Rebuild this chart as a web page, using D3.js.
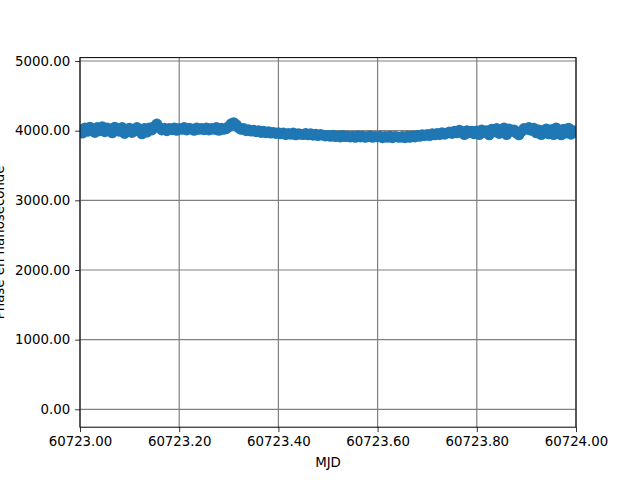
<!DOCTYPE html>
<html>
<head>
<meta charset="utf-8">
<script src="https://cdn.jsdelivr.net/npm/d3@7"></script>
<style>
  body { margin: 0; background: #fff; }
  text { font-family: "DejaVu Sans", sans-serif; }
</style>
</head>
<body>
<svg id="chart" width="640" height="480"></svg>
<script>
// ---- data ----
const mjdStart = 60723.0;
const mjdStep = 0.005;
const phaseValues = [
  4010, 3965, 4040, 3990, 4050, 4020, 3975, 4045, 4000, 4055,
  3985, 4040, 4010, 3970, 4050, 4030, 3990, 4045, 3960, 4020,
  4035, 3975, 4010, 4045, 3990, 3955, 4030, 3980, 4040, 4010,
  4060, 4095, 4040, 4010, 4035, 4000, 4030, 4015, 4040, 4005,
  4030, 4020, 4045, 4010, 4035, 4025, 4005, 4040, 4020, 4030,
  4015, 4040, 4010, 4030, 4020, 4045, 4005, 4035, 4020, 4030,
  4060, 4100, 4115, 4085, 4040, 4020, 4030, 4000, 4015, 3995,
  4005, 3985, 4000, 3975, 3990, 3970, 3985, 3965, 3975, 3960,
  3970, 3955, 3965, 3945, 3960, 3950, 3965, 3940, 3955, 3950,
  3945, 3960, 3940, 3955, 3935, 3950, 3930, 3945, 3935, 3925,
  3930, 3920, 3935, 3915, 3925, 3910, 3930, 3915, 3920, 3910,
  3920, 3905, 3925, 3910, 3920, 3905, 3915, 3925, 3905, 3915,
  3910, 3920, 3900, 3915, 3905, 3920, 3900, 3915, 3910, 3905,
  3915, 3900, 3920, 3905, 3925, 3910, 3930, 3920, 3940, 3930,
  3945, 3930, 3955, 3940, 3960, 3945, 3970, 3950, 3965, 3980,
  3960, 3990, 3970, 4005, 3985, 3945, 4000, 3975, 3990, 3955,
  3995, 3945, 4010, 3975, 4000, 3940, 4020, 3985, 4030, 3960,
  4000, 4040, 3945, 4025, 3990, 4010, 3965, 3940, 3990, 4030,
  4020, 4045, 4005, 4035, 3970, 4010, 3945, 4000, 4025, 3955,
  4015, 3945, 4040, 3990, 3940, 4020, 3965, 4035, 3950, 4000,
  3975
];
const mjdValues = phaseValues.map((_, i) => +(mjdStart + i * mjdStep).toFixed(3));
const xTicks = [60723.0, 60723.2, 60723.4, 60723.6, 60723.8, 60724.0];
const yTicks = [0, 1000, 2000, 3000, 4000, 5000];
const xDomain = [60723.0, 60724.0];
const yDomain = [-257, 5049];
const xLabel = "MJD";
const yLabel = "Phase en nanoseconde";

// ---- layout ----
const L = 80, R = 576, T = 57.6, B = 427.2;
const svg = d3.select("#chart");
const x = d3.scaleLinear().domain(xDomain).range([L, R]);
const y = d3.scaleLinear().domain(yDomain).range([B, T]);

const data = mjdValues.map((m, i) => ({ m, v: phaseValues[i] }));

// grid
const grid = svg.append("g");
grid.selectAll(".vg").data(xTicks).enter().append("line")
  .attr("x1", d => x(d)).attr("x2", d => x(d)).attr("y1", T).attr("y2", B)
  .attr("stroke", "#808080").attr("stroke-width", 1.2);
grid.selectAll(".hg").data(yTicks).enter().append("line")
  .attr("x1", L).attr("x2", R).attr("y1", d => y(d)).attr("y2", d => y(d))
  .attr("stroke", "#808080").attr("stroke-width", 1.2);

// data (clipped to axes area)
svg.append("clipPath").attr("id", "clip").append("rect")
  .attr("x", L).attr("y", T).attr("width", R - L).attr("height", B - T);
const plot = svg.append("g").attr("clip-path", "url(#clip)");
plot.append("path").datum(data)
  .attr("fill", "none").attr("stroke", "#1f77b4").attr("stroke-width", 2)
  .attr("d", d3.line().x(d => x(d.m)).y(d => y(d.v)));
plot.selectAll("circle").data(data).enter().append("circle")
  .attr("cx", d => x(d.m)).attr("cy", d => y(d.v)).attr("r", 5.5)
  .attr("fill", "#1f77b4");

// axes
const xAxis = d3.axisBottom(x).tickValues(xTicks).tickFormat(d3.format(".2f")).tickSize(4.9).tickPadding(4.9);
const yAxis = d3.axisLeft(y).tickValues(yTicks).tickFormat(d3.format(".2f")).tickSize(4.9).tickPadding(4.9);
const gx = svg.append("g").attr("transform", `translate(0,${B})`).call(xAxis);
const gy = svg.append("g").attr("transform", `translate(${L},0)`).call(yAxis);
[gx, gy].forEach(g => {
  g.select(".domain").remove();
  g.selectAll(".tick line").attr("stroke", "#000").attr("stroke-width", 0.8);
  g.selectAll(".tick text").attr("fill", "#000").style("font-size", "13.33px").style("font-family", "DejaVu Sans");
});

// frame
svg.append("rect").attr("x", L).attr("y", T).attr("width", R - L).attr("height", B - T)
  .attr("fill", "none").attr("stroke", "#000").attr("stroke-width", 1);

// labels
svg.append("text").attr("x", (L + R) / 2).attr("y", 467).attr("text-anchor", "middle")
  .style("font-size", "13.33px").text(xLabel);
svg.append("text").attr("transform", `translate(4,${(T + B) / 2}) rotate(-90)`)
  .attr("text-anchor", "middle").style("font-size", "13.33px").text(yLabel);
</script>
</body>
</html>
